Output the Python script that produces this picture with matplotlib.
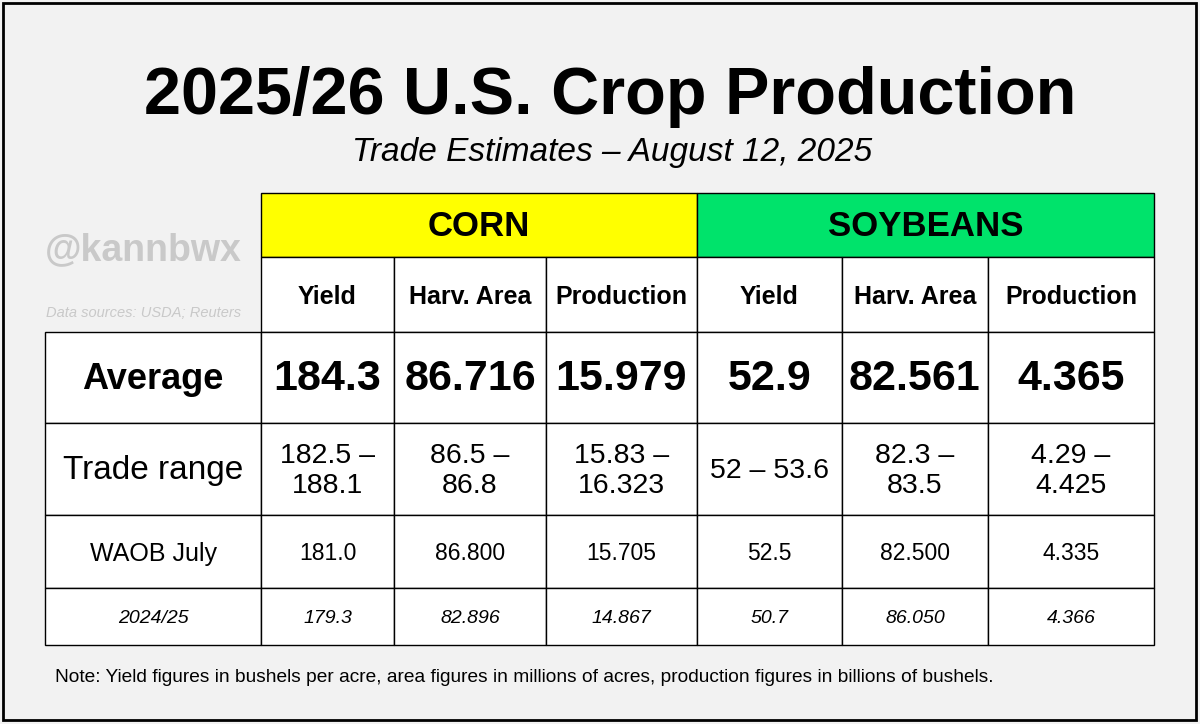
import matplotlib.pyplot as plt
from matplotlib.patches import Rectangle

plt.rcParams['font.family'] = ['Liberation Sans', 'DejaVu Sans']

crops = ['CORN', 'SOYBEANS']
crop_colors = ['#ffff00', '#00e36b']
measures = ['Yield', 'Harv. Area', 'Production']
row_labels = ['Average', 'Trade range', 'WAOB July', '2024/25']
average = ['184.3', '86.716', '15.979', '52.9', '82.561', '4.365']
trade_range = ['182.5 –\n188.1', '86.5 –\n86.8', '15.83 –\n16.323',
               '52 – 53.6', '82.3 –\n83.5', '4.29 –\n4.425']
waob_july = ['181.0', '86.800', '15.705', '52.5', '82.500', '4.335']
prev_year = ['179.3', '82.896', '14.867', '50.7', '86.050', '4.366']

# layout in pixels
col_x = [45, 261, 394, 546, 697, 842, 988, 1154]
row_y = [193, 257, 332, 423, 515, 588, 645]

fig = plt.figure(figsize=(12, 7.24), dpi=100)
fig.patch.set_facecolor('#f2f2f2')
ax = fig.add_axes([0, 0, 1, 1])
ax.set_xlim(0, 1200)
ax.set_ylim(724, 0)
ax.axis('off')

ax.add_patch(Rectangle((3, 3), 1193, 717, fill=False, ec='black', lw=2))

ax.text(610, 97, '2025/26 U.S. Crop Production', ha='center', va='center',
        fontsize=48, fontweight='bold')
ax.text(612, 152, 'Trade Estimates – August 12, 2025', ha='center', va='center',
        fontsize=24, style='italic')
ax.text(143, 250, '@kannbwx', ha='center', va='center', fontsize=27,
        fontweight='bold', color='#c9c9c9')
ax.text(144, 313, 'Data sources: USDA; Reuters', ha='center', va='center',
        fontsize=10.5, style='italic', color='#c9c9c9')


def cell(x0, x1, y0, y1, fc='white'):
    ax.add_patch(Rectangle((x0, y0), x1 - x0, y1 - y0, fc=fc, ec='black', lw=1))


# crop headers
for i, (crop, c) in enumerate(zip(crops, crop_colors)):
    x0, x1 = col_x[1 + 3 * i], col_x[4 + 3 * i]
    cell(x0, x1, row_y[0], row_y[1], c)
    ax.text((x0 + x1) / 2, (row_y[0] + row_y[1]) / 2 + 2, crop, ha='center',
            va='center', fontsize=25, fontweight='bold')

# measure headers
for j in range(6):
    x0, x1 = col_x[1 + j], col_x[2 + j]
    cell(x0, x1, row_y[1], row_y[2])
    ax.text((x0 + x1) / 2, (row_y[1] + row_y[2]) / 2 + 2, measures[j % 3],
            ha='center', va='center', fontsize=18, fontweight='bold')

rows = [average, trade_range, waob_july, prev_year]
label_style = [dict(fontsize=26, fontweight='bold'), dict(fontsize=24),
               dict(fontsize=18), dict(fontsize=14, style='italic')]
value_style = [dict(fontsize=31, fontweight='bold'), dict(fontsize=20.5),
               dict(fontsize=16.5), dict(fontsize=14, style='italic')]
for r, (lab, vals) in enumerate(zip(row_labels, rows)):
    y0, y1 = row_y[2 + r], row_y[3 + r]
    cell(col_x[0], col_x[1], y0, y1)
    ax.text((col_x[0] + col_x[1]) / 2, (y0 + y1) / 2 + 2, lab, ha='center',
            va='center', **label_style[r])
    for j, v in enumerate(vals):
        x0, x1 = col_x[1 + j], col_x[2 + j]
        cell(x0, x1, y0, y1)
        ax.text((x0 + x1) / 2, (y0 + y1) / 2 + 2, v, ha='center', va='center',
                linespacing=1.2, **value_style[r])

ax.text(55, 678, 'Note: Yield figures in bushels per acre, area figures in millions of acres, '
        'production figures in billions of bushels.', ha='left', va='center', fontsize=13.8)

fig.savefig('out.png', dpi=100, facecolor=fig.get_facecolor())
